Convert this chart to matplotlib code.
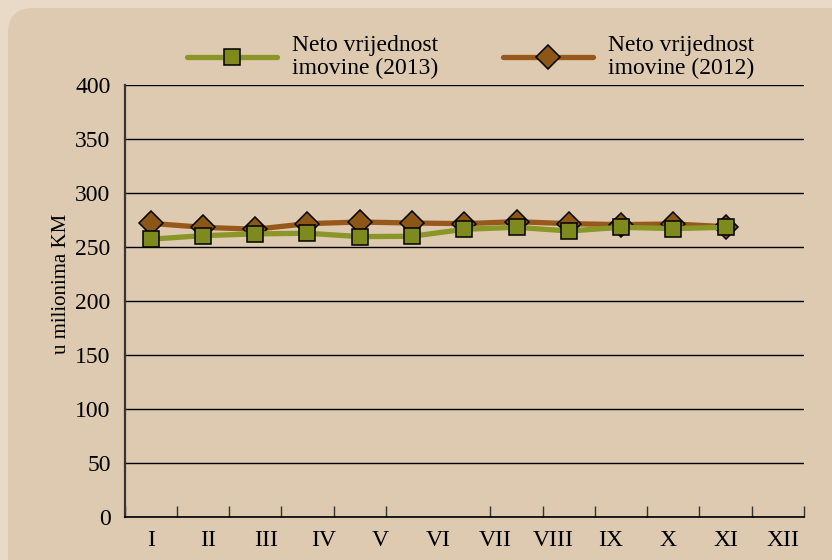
import matplotlib.pyplot as plt
from matplotlib.patches import FancyBboxPatch
from matplotlib.lines import Line2D
import numpy as np

# --- data (u milionima KM) ---
months = ["I", "II", "III", "IV", "V", "VI", "VII", "VIII", "IX", "X", "XI", "XII"]
neto_2013 = [257.5, 260.8, 262.4, 263.0, 259.9, 260.2, 266.7, 268.5, 265.1, 268.5, 267.3, 268.5]
neto_2012 = [272.2, 268.5, 266.7, 271.9, 273.4, 272.5, 271.9, 273.7, 271.9, 271.0, 271.6, 269.1]
label_2013 = "Neto vrijednost\nimovine (2013)"
label_2012 = "Neto vrijednost\nimovine (2012)"

green_line = "#8A9628"
green_fill = "#7F8A1E"
brown_line = "#96591B"
brown_fill = "#8B5616"
outer_bg = "#E8DAC6"
inner_bg = "#DDCAB0"

plt.rcParams['font.family'] = ['Liberation Serif', 'DejaVu Serif']

fig = plt.figure(figsize=(8.32, 5.6), dpi=100)
fig.patch.set_facecolor(outer_bg)

# rounded inner panel
panel = FancyBboxPatch((8 / 832, -0.05), 1.2, 1 - 8 / 560 + 0.05,
                       boxstyle="round,pad=0,rounding_size=0.03",
                       mutation_aspect=832 / 560,
                       transform=fig.transFigure, facecolor=inner_bg,
                       edgecolor="none", zorder=-5)
fig.patches.append(panel)

ax = fig.add_axes([124.5 / 832, 1 - 517.3 / 560, (804 - 124.5) / 832, (517.3 - 85.3) / 560])
ax.set_facecolor("none")
ax.set_zorder(2)

x = np.arange(len(months))
ax.plot(x, neto_2012, color=brown_line, lw=3.8, marker="D", ms=12,
        mfc=brown_fill, mec="black", mew=1.1, zorder=3, solid_capstyle="round")
ax.plot(x, neto_2013, color=green_line, lw=3.8, marker="s", ms=11.5,
        mfc=green_fill, mec="black", mew=1.1, zorder=4, solid_capstyle="round")

ax.set_xlim(-0.5, 12.5)
ax.set_ylim(0, 400)
ax.set_yticks(np.arange(0, 401, 50))
ax.yaxis.grid(True, color="black", lw=1.0)
ax.set_axisbelow(True)
ax.tick_params(axis="y", length=0, pad=10, labelsize=17)

# category ticks at boundaries, labels spread evenly
ax.set_xticks(np.arange(-0.5, 12.6, 1.0), minor=True)
ax.set_xticks(np.arange(len(months)) * 1.1)
ax.set_xticklabels(months)
ax.tick_params(axis="x", which="major", length=0, pad=9, labelsize=17)
ax.tick_params(axis="x", which="minor", direction="in", length=8, width=1, color="#333333")

for s in ["top", "right"]:
    ax.spines[s].set_visible(False)
ax.spines["left"].set_color("#3a3530")
ax.spines["left"].set_linewidth(1.6)
ax.spines["bottom"].set_color("black")
ax.spines["bottom"].set_linewidth(1.2)

fig.text(62 / 832, 1 - 284 / 560, "u milionima KM", rotation=90,
         ha="center", va="center", fontsize=15)

# legend: two separate single-entry legends
h13 = Line2D([], [], color=green_line, lw=3.8, marker="s", ms=11.5,
             mfc=green_fill, mec="black", mew=1.1, solid_capstyle="round")
h12 = Line2D([], [], color=brown_line, lw=3.8, marker="D", ms=12,
             mfc=brown_fill, mec="black", mew=1.1, solid_capstyle="round")
for h, lab, x0 in [(h13, label_2013, 187), (h12, label_2012, 503)]:
    leg = fig.legend([h], [lab], loc="center left",
                     bbox_to_anchor=(x0 / 832, 1 - 57 / 560),
                     frameon=False, fontsize=17, handlelength=3.8,
                     handletextpad=0.65, borderpad=0, borderaxespad=0)
    leg.set_zorder(3)
    for t in leg.get_texts():
        t.set_linespacing(1.12)

fig.savefig("out.png", dpi=100, facecolor=fig.get_facecolor())
